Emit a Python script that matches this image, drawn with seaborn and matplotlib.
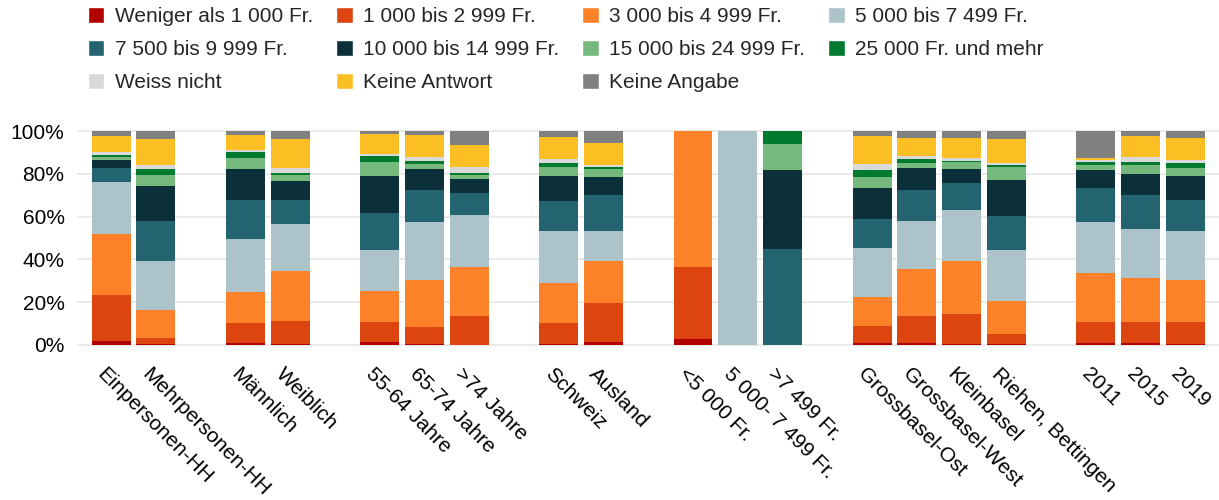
import pandas as pd
import matplotlib.pyplot as plt
import matplotlib.transforms as mtrans
import seaborn as sns
from matplotlib.patches import Patch
from matplotlib.ticker import FuncFormatter

# categories of household income (stack order, bottom to top)
categories = ["Weniger als 1 000 Fr.", "1 000 bis 2 999 Fr.", "3 000 bis 4 999 Fr.",
              "5 000 bis 7 499 Fr.", "7 500 bis 9 999 Fr.", "10 000 bis 14 999 Fr.",
              "15 000 bis 24 999 Fr.", "25 000 Fr. und mehr", "Weiss nicht",
              "Keine Antwort", "Keine Angabe"]
colors = ["#b20000", "#dc4510", "#fd8129", "#abc3c9", "#246370", "#0b303a",
          "#75b97c", "#007a2f", "#d9d9d9", "#fbbe23", "#808080"]

groups = [["Einpersonen-HH", "Mehrpersonen-HH"],
          ["Männlich", "Weiblich"],
          ["55-64 Jahre", "65-74 Jahre", ">74 Jahre"],
          ["Schweiz", "Ausland"],
          ["<5 000 Fr.", "5 000- 7 499 Fr.", ">7 499 Fr."],
          ["Grossbasel-Ost", "Grossbasel-West", "Kleinbasel", "Riehen, Bettingen"],
          ["2011", "2015", "2019"]]

# shares in % per bar (same order as the labels above)
weniger_1000 = [2.0, 0.5, 1.1, 0.5, 1.4, 0.5, 0.2, 0.6, 1.6, 2.8, 0, 0, 1.1, 1.1, 0.5, 0.3, 1.1, 0.8, 0.6]
b1000_2999 = [21.5, 2.6, 9.3, 10.9, 9.3, 7.8, 13.5, 9.5, 18.2, 33.8, 0, 0, 7.8, 12.6, 13.8, 4.7, 9.8, 10.1, 10.3]
b3000_4999 = [28.4, 13.1, 14.4, 23.2, 14.4, 22.2, 22.7, 19.0, 19.5, 63.4, 0, 0, 13.5, 21.7, 25.1, 15.7, 22.6, 20.6, 19.5]
b5000_7499 = [24.3, 22.9, 24.7, 21.9, 19.4, 27.0, 24.2, 24.2, 14.0, 0, 100, 0, 22.9, 22.7, 23.8, 23.5, 24.0, 22.7, 22.9]
b7500_9999 = [6.7, 19.0, 18.3, 11.1, 17.0, 14.8, 10.6, 14.0, 16.8, 0, 0, 44.9, 13.6, 14.2, 12.7, 16.2, 15.7, 15.7, 14.3]
b10000_14999 = [3.7, 16.0, 14.4, 9.0, 17.3, 9.9, 6.2, 11.8, 8.2, 0, 0, 36.7, 14.6, 10.3, 6.3, 16.9, 8.7, 10.2, 11.5]
b15000_24999 = [1.1, 5.5, 5.3, 2.7, 6.6, 2.5, 1.9, 3.9, 4.1, 0, 0, 12.5, 5.2, 2.3, 3.2, 5.7, 2.4, 4.0, 3.8]
ab_25000 = [0.9, 2.8, 2.8, 1.2, 3.1, 1.1, 1.2, 2.2, 0.8, 0, 0, 5.9, 3.2, 2.0, 0.4, 1.1, 1.4, 1.6, 2.0]
weiss_nicht = [1.4, 1.7, 1.0, 2.2, 0.8, 2.2, 2.7, 1.7, 0.9, 0, 0, 0, 2.7, 1.6, 1.7, 1.1, 0.9, 2.0, 1.4]
keine_antwort = [7.7, 12.2, 6.7, 13.4, 9.5, 10.1, 10.3, 10.1, 10.3, 0, 0, 0, 13.2, 8.1, 9.2, 10.9, 0.8, 10.1, 10.3]
keine_angabe = [2.3, 3.7, 2.0, 3.9, 1.2, 1.9, 6.5, 3.0, 5.6, 0, 0, 0, 2.2, 3.4, 3.3, 3.9, 12.6, 2.2, 3.4]

values = [weniger_1000, b1000_2999, b3000_4999, b5000_7499, b7500_9999, b10000_14999,
          b15000_24999, ab_25000, weiss_nicht, keine_antwort, keine_angabe]

# bar slots, one empty slot between groups
positions, labels = [], []
p = 0
for g in groups:
    for lab in g:
        positions.append(p)
        labels.append(lab)
        p += 1
    p += 1

rows = []
for cat, vals in zip(categories, values):
    for pos, v in zip(positions, vals):
        rows.append((pos, cat, v))
df = pd.DataFrame(rows, columns=["pos", "cat", "share"])

sns.set_style("white")
plt.rcParams["font.family"] = ["Liberation Sans", "DejaVu Sans"]

fig = plt.figure(figsize=(12.19, 5.0), dpi=100)
ax = fig.add_axes([0.0632, 0.3058, 0.9368, 0.4364])

sns.histplot(df, x="pos", weights="share", hue="cat", hue_order=categories[::-1],
             multiple="stack", discrete=True, shrink=0.87,
             palette=dict(zip(categories, colors)), alpha=1, linewidth=0,
             legend=False, ax=ax)

ax.set_xlim(-0.76, 24.75)
ax.set_ylim(-1, 101)
ax.set_yticks([0, 20, 40, 60, 80, 100])
ax.yaxis.set_major_formatter(FuncFormatter(lambda v, _: f"{v:.0f}%"))
ax.grid(axis="y", color="#e8e8e8", linewidth=1.2)
ax.set_axisbelow(True)
for s in ax.spines.values():
    s.set_visible(False)
ax.tick_params(axis="both", length=0, labelsize=15, colors="black")
ax.tick_params(axis="y", pad=9)
ax.tick_params(axis="x", pad=12)
ax.set_xlabel("")
ax.set_ylabel("")

ax.set_xticks(positions)
ax.set_xticklabels(labels, rotation=-45, rotation_mode="anchor", ha="left", va="top")
shift = mtrans.ScaledTranslation(-0.045, -0.01, fig.dpi_scale_trans)
for t in ax.get_xticklabels():
    t.set_transform(t.get_transform() + shift)

# legend filled row by row (matplotlib fills columns)
order = [0, 4, 8, 1, 5, 9, 2, 6, 10, 3, 7]
handles = [Patch(facecolor=colors[i], label=categories[i]) for i in order]
fig.legend(handles=handles, ncol=4, loc="upper left", bbox_to_anchor=(0.072, 0.986),
           frameon=False, fontsize=15, handlelength=0.8, handleheight=0.8,
           handletextpad=0.5, columnspacing=1.1, labelspacing=0.66,
           borderpad=0, borderaxespad=0)

fig.savefig("out.png", dpi=100)
